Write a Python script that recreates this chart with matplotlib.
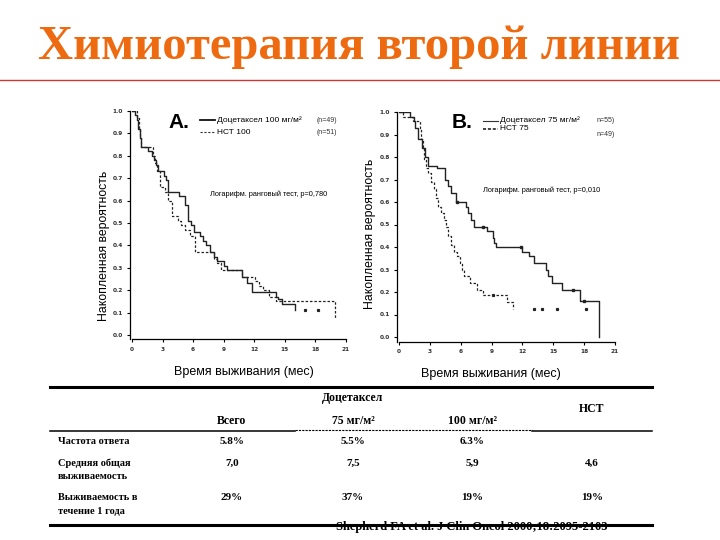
import matplotlib
matplotlib.use('Agg')
import matplotlib.pyplot as plt

W, H = 720, 540

# --- Kaplan-Meier data (months, survival) ---
# Panel A: Docetaxel 100 mg/m2 vs BSC 100
a_doc_t = [0, 0.3, 0.45, 0.6, 0.75, 0.9, 1.6, 2.0, 2.2, 2.4, 2.6, 3.1, 3.35, 3.55, 4.6, 5.2, 5.5, 5.8,
           6.1, 6.7, 7.0, 7.3, 7.7, 8.0, 8.3, 9.0, 9.3, 10.75, 11.25, 11.75, 14.1, 14.35, 14.7, 16.0]
a_doc_s = [1.0, 0.98, 0.96, 0.92, 0.88, 0.84, 0.82, 0.80, 0.78, 0.76, 0.73, 0.71, 0.69, 0.64, 0.62, 0.58,
           0.51, 0.49, 0.46, 0.44, 0.42, 0.40, 0.37, 0.35, 0.33, 0.31, 0.29, 0.26, 0.23, 0.19, 0.17, 0.16,
           0.14, 0.11]
a_bsc_t = [0, 0.5, 0.7, 0.8, 0.9, 2.05, 2.3, 2.45, 2.7, 3.2, 3.5, 3.9, 4.5, 4.85, 5.2, 5.7, 6.15, 8.0,
           8.3, 8.7, 10.75, 12.1, 12.5, 12.9, 13.4, 14.1, 14.35, 19.9]
a_bsc_s = [1.0, 0.97, 0.92, 0.88, 0.84, 0.80, 0.77, 0.73, 0.66, 0.64, 0.60, 0.53, 0.51, 0.49, 0.47, 0.44,
           0.37, 0.34, 0.32, 0.29, 0.26, 0.24, 0.22, 0.20, 0.17, 0.15, 0.15, 0.07]
a_cens_t = [17.0, 18.3]
a_cens_s = [0.11, 0.11]

# Panel B: Docetaxel 75 mg/m2 vs BSC 75
b_doc_t = [0, 1.05, 1.5, 1.6, 1.85, 2.2, 2.5, 2.8, 3.65, 4.45, 4.75, 5.05, 5.5, 6.55, 6.75, 7.0, 7.3,
           8.6, 9.1, 9.25, 9.45, 11.95, 12.6, 13.1, 14.3, 14.45, 14.9, 15.85, 17.6, 19.4]
b_doc_s = [1.0, 0.98, 0.96, 0.93, 0.88, 0.84, 0.80, 0.76, 0.75, 0.70, 0.67, 0.64, 0.60, 0.58, 0.55, 0.52,
           0.49, 0.47, 0.44, 0.42, 0.40, 0.38, 0.36, 0.33, 0.30, 0.27, 0.24, 0.21, 0.16, 0.0]
b_doc_cens_t = [5.6, 8.2, 11.9, 16.9, 18.0]
b_doc_cens_s = [0.60, 0.49, 0.40, 0.21, 0.16]
b_bsc_t = [0, 0.4, 1.4, 2.0, 2.15, 2.3, 2.45, 2.6, 2.8, 3.1, 3.4, 3.6, 3.8, 4.1, 4.4, 4.55, 4.8, 5.1,
           5.35, 5.6, 5.9, 6.1, 6.3, 6.9, 7.6, 8.2, 10.5, 11.1]
b_bsc_s = [1.0, 0.98, 0.96, 0.93, 0.88, 0.84, 0.79, 0.75, 0.73, 0.69, 0.66, 0.62, 0.58, 0.55, 0.52, 0.49,
           0.45, 0.41, 0.38, 0.36, 0.33, 0.30, 0.27, 0.24, 0.21, 0.185, 0.155, 0.125]
b_bsc_cens_t = [9.1, 13.1, 13.9, 15.35, 18.2]
b_bsc_cens_s = [0.185, 0.125, 0.125, 0.125, 0.125]

x_ticks = [0, 3, 6, 9, 12, 15, 18, 21]
y_ticks = [0.0, 0.1, 0.2, 0.3, 0.4, 0.5, 0.6, 0.7, 0.8, 0.9, 1.0]

# --- table data ---
col_names = ['Всего', '75 мг/м²', '100 мг/м²', 'НСТ']
row_names = ['Частота ответа', 'Средняя общая\nвыживаемость', 'Выживаемость в\nтечение 1 года']
resp_rate = ['5.8%', '5.5%', '6.3%', '']
median_os = ['7,0', '7,5', '5,9', '4,6']
one_year = ['29%', '37%', '19%', '19%']

fig = plt.figure(figsize=(7.2, 5.4), dpi=100)
fig.patch.set_facecolor('white')

ov = fig.add_axes([0, 0, 1, 1])
ov.set_xlim(0, W)
ov.set_ylim(H, 0)
ov.axis('off')

ov.text(359, 47, 'Химиотерапия второй линии', ha='center', va='center',
        fontsize=35, fontweight='bold', family='Liberation Serif', color='#EE6A10')
ov.plot([0, 720], [80, 80], color='#C83A3A', lw=1.0)


def km_axes(x0px, x21px, y1px, y0px):
    pxpm = (x21px - x0px) / 21
    ppu = y0px - y1px
    l = x0px - 0.15 * pxpm
    r = x21px + 0.15 * pxpm
    b = y0px + 0.02 * ppu
    ax = fig.add_axes([l / W, 1 - b / H, (r - l) / W, (b - y1px) / H])
    ax.set_xlim(-0.15, 21.15)
    ax.set_ylim(-0.02, 1.0)
    for s in ['top', 'right']:
        ax.spines[s].set_visible(False)
    ax.spines['left'].set_bounds(-0.02, 1.0)
    ax.spines['bottom'].set_bounds(0, 21)
    ax.spines['left'].set_linewidth(0.9)
    ax.spines['bottom'].set_linewidth(0.9)
    ax.set_xticks(x_ticks)
    ax.set_yticks(y_ticks)
    ax.set_yticklabels(['%.1f' % v for v in y_ticks])
    ax.tick_params(direction='out', length=2.5, width=0.8, labelsize=4.2, pad=3, labelcolor='#333333')
    for lab in ax.get_xticklabels() + ax.get_yticklabels():
        lab.set_fontweight('bold')
    ax.patch.set_alpha(0)
    return ax


axA = km_axes(132, 346, 111, 335)
axA.step(a_doc_t, a_doc_s, where='post', color='#222222', lw=1.0)
axA.step(a_bsc_t, a_bsc_s, where='post', color='#222222', lw=0.9, linestyle=(0, (2, 1.5)))
axA.plot(a_cens_t, a_cens_s, 's', ms=1.3, color='#222222')

axB = km_axes(399, 615, 112, 337)
axB.step(b_doc_t, b_doc_s, where='post', color='#222222', lw=1.0)
axB.plot(b_doc_cens_t, b_doc_cens_s, 's', ms=1.5, color='#222222')
axB.step(b_bsc_t, b_bsc_s, where='post', color='#222222', lw=0.9, linestyle=(0, (2, 1.5)))
axB.plot(b_bsc_cens_t, b_bsc_cens_s, 's', ms=1.3, color='#222222')

sans = 'Liberation Sans'
# panel A texts
ov.text(168, 123, 'A.', fontsize=15, fontweight='bold', family=sans, va='center')
ov.plot([200, 215], [120, 120], color='#111111', lw=1.3)
ov.plot([200, 215], [132, 132], color='#333333', lw=0.8, linestyle=(0, (2, 1.5)))
ov.text(217, 120, 'Доцетаксел 100 мг/м²', fontsize=6, family=sans, va='center')
ov.text(217, 132, 'НСТ 100', fontsize=6, family=sans, va='center')
ov.text(317, 120, '(n=49)', fontsize=5, family=sans, va='center', color='#333333')
ov.text(317, 132, '(n=51)', fontsize=5, family=sans, va='center', color='#333333')
ov.text(210, 194, 'Логарифм. ранговый тест, p=0,780', fontsize=5.3, family=sans, va='center')
ov.text(104, 246, 'Накопленная вероятность', rotation=90, fontsize=8.8, family=sans,
        ha='center', va='center')
ov.text(244, 372, 'Время выживания (мес)', fontsize=9, family=sans, ha='center', va='center')

# panel B texts
ov.text(452, 123, 'B.', fontsize=15, fontweight='bold', family=sans, va='center')
ov.plot([483, 498], [121, 121], color='#333333', lw=0.8)
ov.plot([483, 498], [129, 129], color='#111111', lw=1.1, linestyle=(0, (2, 1.2)))
ov.text(500, 120, 'Доцетаксел 75 мг/м²', fontsize=6, family=sans, va='center')
ov.text(500, 129, 'НСТ 75', fontsize=6, family=sans, va='center')
ov.text(597, 121, 'n=55)', fontsize=5, family=sans, va='center', color='#333333')
ov.text(597, 134, 'n=49)', fontsize=5, family=sans, va='center', color='#333333')
ov.text(483, 190, 'Логарифм. ранговый тест, p=0,010', fontsize=5.3, family=sans, va='center')
ov.text(370, 234, 'Накопленная вероятность', rotation=90, fontsize=8.8, family=sans,
        ha='center', va='center')
ov.text(491, 374, 'Время выживания (мес)', fontsize=9, family=sans, ha='center', va='center')

# --- table ---
serif = 'Liberation Serif'
col_x = [232, 353, 472, 592]
ov.plot([50, 652], [387, 387], color='black', lw=2.2)
ov.plot([50, 295], [431, 431], color='black', lw=1.1)
ov.plot([295, 532], [430, 430], color='black', lw=0.8, linestyle=(0, (2, 1)))
ov.plot([532, 652], [431, 431], color='black', lw=1.1)
ov.plot([50, 652], [525, 525], color='black', lw=2.2)

ov.text(353, 398, 'Доцетаксел', fontsize=8.5, family=serif, fontweight='bold', ha='center', va='center')
for i, name in enumerate(col_names):
    yy = 409 if name == 'НСТ' else 421
    ov.text(col_x[i], yy, name, fontsize=8.5, family=serif, fontweight='bold', ha='center', va='center')

row_y = [442, 463, 498]
for j, name in enumerate(row_names):
    ov.text(58, row_y[j] - 5, name, fontsize=7.5, family=serif, fontweight='bold',
            ha='left', va='top', linespacing=1.7)
for j, vals in enumerate([resp_rate, median_os, one_year]):
    for i, v in enumerate(vals):
        ov.text(col_x[i], row_y[j], v, fontsize=8, family=serif, fontweight='bold',
                ha='center', va='center')

ov.text(472, 527, 'Shepherd FA et al. J Clin Oncol 2000;18:2095-2103', fontsize=9,
        family=serif, fontweight='bold', ha='center', va='center')

fig.savefig('out.png', dpi=100)
